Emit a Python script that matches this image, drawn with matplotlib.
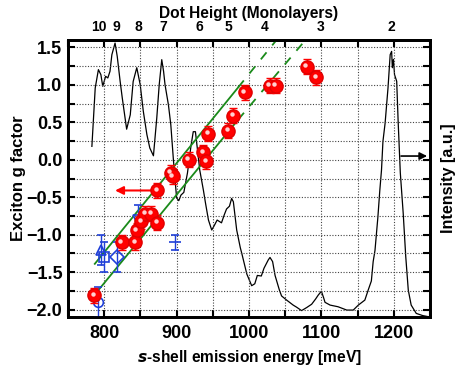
import matplotlib
matplotlib.use("Agg")
import matplotlib.pyplot as plt
import matplotlib.transforms as mtransforms
from matplotlib.ticker import MultipleLocator, FixedLocator, FuncFormatter

plt.rcParams['font.family'] = ['Liberation Sans', 'DejaVu Sans']
plt.rcParams['font.weight'] = 'bold'

# ---- data ----
red_E = [786, 824, 843, 845, 851, 857, 865, 873, 873, 892, 895, 917, 937, 941, 944,
         971, 978, 994, 1029, 1037, 1080, 1093]
red_g = [-1.81, -1.10, -1.10, -0.94, -0.82, -0.72, -0.72, -0.84, -0.41, -0.17, -0.22,
         0.00, 0.10, -0.02, 0.35, 0.39, 0.59, 0.90, 0.99, 0.99, 1.24, 1.10]
red_err = [0.1] * len(red_E)

blue_circle = (791, -1.90, 0.2)
blue_tri_up = (795, -1.21, 0.2)
blue_square = (800, -1.30, 0.2)
blue_diamond = (817, -1.30, 0.2)
blue_tri_down = (846, -0.81, 0.2)
blue_bar = (898, -1.10, 0.1)

# fit lines (solid part, dashed extension)
upper_solid_E = [787, 985]
upper_solid_g = [-1.39, 0.966]
upper_dash_E = [985, 1038]
upper_dash_g = [0.966, 1.60]
lower_solid_E = [787, 985]
lower_solid_g = [-1.80, 0.536]
lower_dash_E = [985, 1078]
lower_dash_g = [0.536, 1.60]

# arrows (tail, head)
red_arrow = ((866, -0.41), (815, -0.41))
black_arrow = ((1210, 0.05), (1246, 0.05))

# PL spectrum (normalised intensity)
spec_E = [783, 787.6, 792, 795.4, 798, 802, 805, 808, 810.6, 815, 818, 822, 825, 831, 836,
          840, 845, 849.7, 854, 859, 863, 868, 872.6, 876, 879.5, 882, 884, 886.5, 888.7,
          892, 895.6, 900, 903, 906, 910, 915, 920, 923, 926, 929, 932, 937, 940, 944,
          948.5, 952, 956, 962, 966, 969, 973, 976, 978.4, 983, 988, 990, 997, 1003.7,
          1008, 1011.5, 1017, 1020.7, 1026.6, 1029, 1032.6, 1036, 1042, 1045, 1052, 1061,
          1066, 1072.6, 1079.6, 1086.5, 1092, 1095.6, 1100, 1103, 1105, 1112, 1123, 1135,
          1144, 1151, 1160, 1164.6, 1169, 1171.5, 1174, 1176, 1178, 1180.7, 1183, 1185,
          1188, 1192, 1195, 1197, 1198, 1199.5, 1201, 1204, 1206, 1209, 1213, 1216.5,
          1220, 1224, 1231, 1240, 1250]
spec_I = [0.616, 0.827, 0.893, 0.875, 0.833, 0.869, 0.863, 0.887, 0.947, 0.989, 0.941,
          0.851, 0.79, 0.678, 0.73, 0.85, 0.90, 0.839, 0.743, 0.658, 0.61, 0.582, 0.718,
          0.839, 0.929, 0.887, 0.839, 0.80, 0.766, 0.694, 0.567, 0.43, 0.42, 0.44, 0.45,
          0.52, 0.62, 0.669, 0.669, 0.60, 0.53, 0.458, 0.41, 0.35, 0.314, 0.33, 0.35,
          0.34, 0.37, 0.39, 0.40, 0.428, 0.416, 0.314, 0.25, 0.23, 0.155, 0.113, 0.12,
          0.15, 0.148, 0.176, 0.206, 0.215, 0.2, 0.15, 0.097, 0.076, 0.061, 0.043, 0.035,
          0.023, 0.034, 0.046, 0.065, 0.079, 0.093, 0.07, 0.053, 0.043, 0.037, 0.025,
          0.025, 0.043, 0.061, 0.097, 0.13, 0.2, 0.24, 0.30, 0.36, 0.458, 0.53, 0.634,
          0.70, 0.827, 0.947, 0.959, 0.90, 0.93, 0.875, 0.851, 0.706, 0.52, 0.374, 0.218,
          0.097, 0.043, 0.013, 0.005, 0.0]

dot_heights = ['10', '9', '8', '7', '6', '5', '4', '3', '2']
dot_E = [792, 817, 847, 881, 931, 972, 1022, 1099, 1196]

# ---- figure ----
fig = plt.figure(figsize=(4.65, 3.75), dpi=100)
ax = fig.add_axes([68/465, 1-317/375, (430-68)/465, (317-40)/375])
ax2 = ax.twinx()
ax.set_zorder(ax2.get_zorder() + 1)
ax.patch.set_visible(False)

ax2.plot(spec_E, spec_I, color='black', lw=0.9)
ax2.set_ylim(0, 1.0)
ax2.set_yticks([])
ax2.set_ylabel('Intensity [a.u.]', fontsize=11.6, fontweight='bold', labelpad=8)

ax.set_xlim(750, 1250)
ax.set_ylim(-2.1, 1.6)
ax.xaxis.set_major_locator(MultipleLocator(100))
ax.xaxis.set_minor_locator(MultipleLocator(50))
ax.yaxis.set_major_locator(MultipleLocator(0.5))
ax.yaxis.set_minor_locator(MultipleLocator(0.25))
ax.grid(True, which='both', color='#444444', linestyle=(0, (1, 1.5)), lw=0.8)
ax.tick_params(which='both', direction='in', top=True, right=True, width=1.5,
               labelsize=13, length=5)
ax.tick_params(axis='x', pad=6)
ax.tick_params(axis='y', pad=4)
for sp in list(ax.spines.values()) + list(ax2.spines.values()):
    sp.set_linewidth(2)

ax.yaxis.set_major_formatter(FuncFormatter(lambda v, p: ('%.1f' % v).replace('-', '\u2212')))
for lbl in ax.get_xticklabels() + ax.get_yticklabels():
    lbl.set_fontweight('bold')

ax.set_xlabel(r'$\mathbfit{s}$-shell emission energy [meV]', fontsize=11.2,
              fontweight='bold', labelpad=4)
ax.set_ylabel('Exciton g factor', fontsize=12, fontweight='bold')
ax.yaxis.set_label_coords(-0.115, 0.5)

# top axis
sec = ax.secondary_xaxis('top')
sec.xaxis.set_major_locator(FixedLocator(dot_E))
sec.set_xticklabels(dot_heights, fontsize=10, fontweight='bold')
sec.tick_params(length=0, pad=4)
sec.spines['top'].set_linewidth(2)
sec.set_xlabel('Dot Height (Monolayers)', fontsize=11.2, fontweight='bold', labelpad=2)

# fit lines
green = '#1a8a1a'
ax.plot(upper_solid_E, upper_solid_g, color=green, lw=1.3)
ax.plot(upper_dash_E, upper_dash_g, color=green, lw=1.3, ls=(0, (5, 5)))
ax.plot(lower_solid_E, lower_solid_g, color=green, lw=1.3)
ax.plot(lower_dash_E, lower_dash_g, color=green, lw=1.3, ls=(0, (5, 5)))

# blue points
blue = '#1f3fd8'
for pt, m in [(blue_circle, 'o'), (blue_tri_up, '^'), (blue_square, 's'),
              (blue_diamond, 'D'), (blue_tri_down, 'v'), (blue_bar, '_')]:
    ax.errorbar(pt[0], pt[1], yerr=pt[2], fmt=m, mfc='none', mec=blue, color=blue,
                ms=7 if m != '_' else 8, mew=1.2, elinewidth=1.0, capsize=3, capthick=1.0)

# red points
ax.errorbar(red_E, red_g, yerr=red_err, fmt='none', ecolor='red', elinewidth=1.0,
            capsize=3, capthick=1.0, zorder=4)
ax.plot(red_E, red_g, 'o', color='red', mec='#e00000', ms=9.5, zorder=5)
hl = mtransforms.offset_copy(ax.transData, fig=fig, x=-1.5, y=1.5, units='dots')
ax.plot(red_E, red_g, 'o', color='#ffd0d0', mec='none', ms=3.2, transform=hl, zorder=6)

# arrows
ax.annotate('', xy=red_arrow[1], xytext=red_arrow[0],
            arrowprops=dict(arrowstyle='-|>', color='red', lw=1.5,
                            mutation_scale=12, shrinkA=0, shrinkB=0))
ax.annotate('', xy=black_arrow[1], xytext=black_arrow[0],
            arrowprops=dict(arrowstyle='-|>', color='black', lw=1.2,
                            mutation_scale=11, shrinkA=0, shrinkB=0))

fig.savefig('out.png', dpi=100)
